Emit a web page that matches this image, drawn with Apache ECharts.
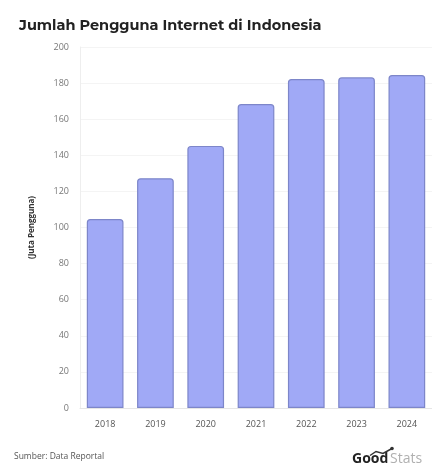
<!DOCTYPE html>
<html><head><meta charset="utf-8">
<script src="https://cdn.jsdelivr.net/npm/echarts@6/dist/echarts.min.js"></script>
<style>html,body{margin:0;padding:0;background:#fff}#c{width:432px;height:466px}</style>
</head><body><div id="c"></div>
<script>
const categories = ['2018','2019','2020','2021','2022','2023','2024'];
const users = [104.7, 127.3, 145.2, 168.4, 182.3, 183.2, 184.5];
const yTicks = [0,20,40,60,80,100,120,140,160,180,200];

const chart = echarts.init(document.getElementById('c'), null, {renderer:'canvas'});
chart.setOption({
  backgroundColor:'#fff',
  animation:false,
  title:{text:'Jumlah Pengguna Internet di Indonesia', left:14, top:13,
    textStyle:{fontFamily:'Montserrat, "Open Sans", sans-serif', fontSize:14.5, fontWeight:'bold', color:'#222'}},
  grid:{left:80, right:-1, top:47, bottom:58},
  xAxis:{type:'category', data:categories,
    axisLine:{show:true, lineStyle:{color:'#e6e6e6'}},
    axisTick:{show:false},
    axisLabel:{fontFamily:'"Open Sans", sans-serif', fontSize:9, color:'#555', margin:12}},
  yAxis:{type:'value', min:0, max:200, interval:20,
    name:'(Juta Pengguna)', nameLocation:'middle', nameGap:44, nameRotate:90,
    nameTextStyle:{fontFamily:'"Open Sans", sans-serif', fontSize:8, fontWeight:'bold', color:'#333'},
    axisLine:{show:true, lineStyle:{color:'#eeeeee'}},
    axisTick:{show:false},
    splitLine:{lineStyle:{color:'#f4f4f4'}},
    axisLabel:{fontFamily:'"Open Sans", sans-serif', fontSize:9, color:'#777', margin:11,
      formatter:v=>yTicks.includes(v)?String(v):''}},
  series:[{type:'bar', data:users, barWidth:'73%',
    itemStyle:{color:'#a0a9f6', borderColor:'#7d86c9', borderWidth:1.2, borderRadius:[3,3,0,0]}}],
  graphic:[
    {type:'text', left:14, top:452, style:{text:'Sumber: Data Reportal', font:'8.5px "Open Sans", sans-serif', fill:'#555'}},
    {type:'group', left:352, top:446, children:[
      {type:'text', x:0, y:4, style:{text:'Good', font:'bold 14px "Open Sans", sans-serif', fill:'#222'}},
      {type:'text', x:38, y:4, style:{text:'Stats', font:'14px "Open Sans", sans-serif', fill:'#b0b0b0'}},
      {type:'polyline', shape:{points:[[18,7],[24,3],[31,5],[40,0]]}, style:{stroke:'#333', lineWidth:1.5, fill:null}},
      {type:'circle', shape:{cx:40, cy:0, r:1.8}, style:{fill:'#333'}}
    ]}
  ]
});
</script></body></html>
